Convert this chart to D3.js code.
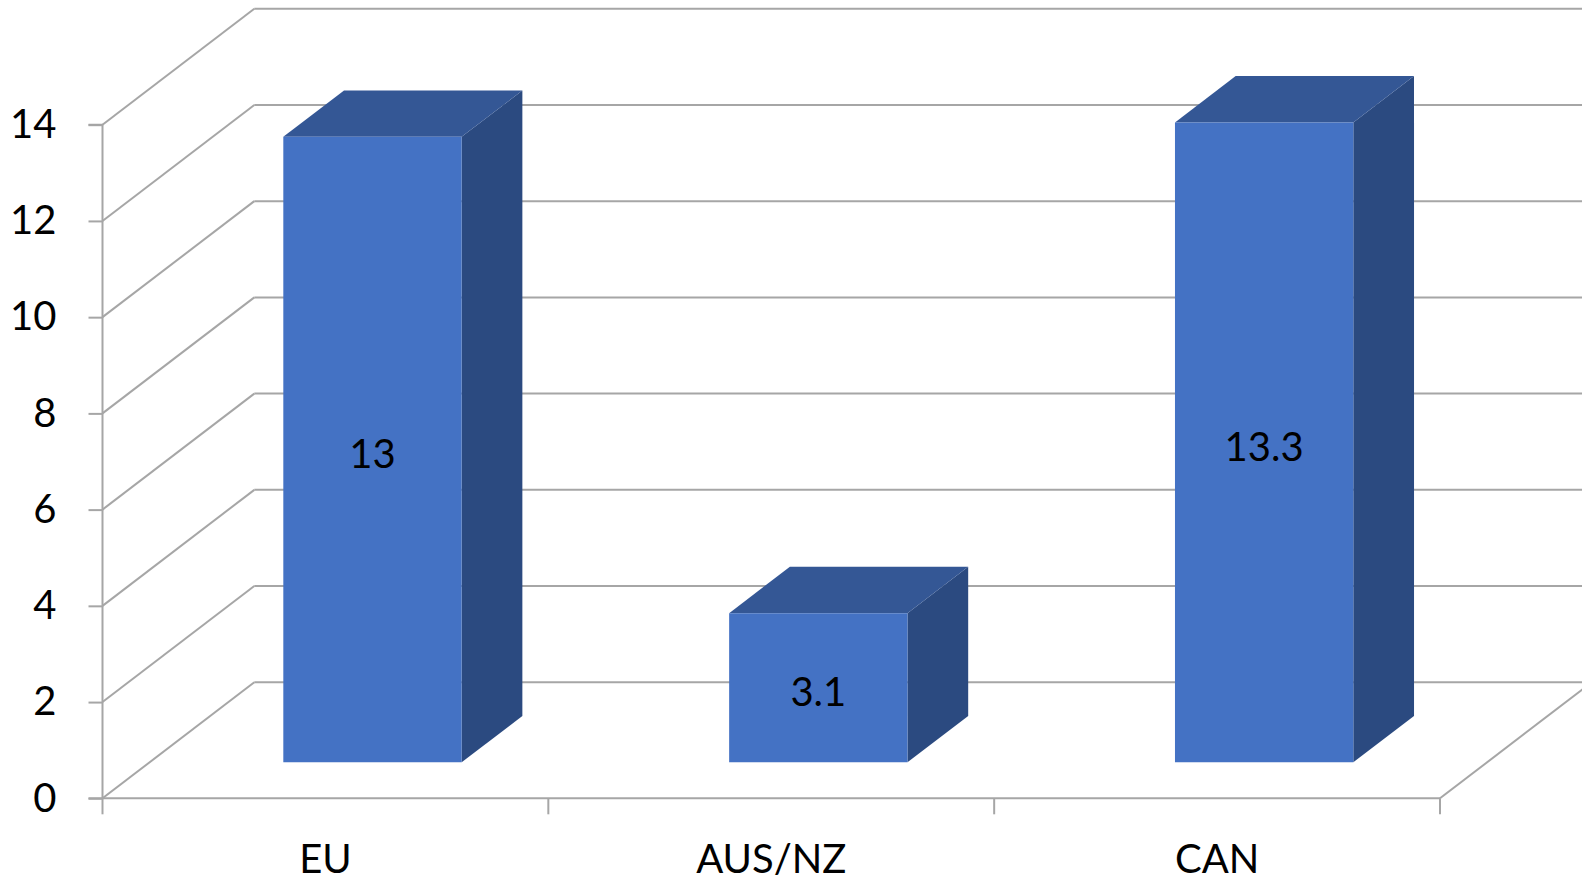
<!DOCTYPE html>
<html>
<head>
<meta charset="utf-8">
<script src="https://cdn.jsdelivr.net/npm/d3@7"></script>
<style>
  html, body { margin: 0; padding: 0; background: #ffffff; }
  svg { display: block; }
  text { font-family: Lato, "Open Sans", "Liberation Sans", sans-serif; fill: #000; }
</style>
</head>
<body>
<svg id="chart" width="1582" height="883"></svg>
<script>
// Chart data
const categories = ["EU", "AUS/NZ", "CAN"];
const values = [13, 3.1, 13.3];
const yTicks = [0, 2, 4, 6, 8, 10, 12, 14];

// Layout of the oblique 3D box
const W = 1582, H = 883;
const x0 = 102.5, x1 = 1440;          // front floor edge
const yBottom = 798.3, yTop = 124.7;  // value axis span on the front plane
const depthDX = 151.8, depthDY = -116; // offset from front plane to back wall
const barZ0 = 0.31, barZ1 = 0.71;      // bar depth position (fraction of box depth)

const gridColor = "#a6a6a6";
const frontColor = "#4472c4";
const topColor = "#345795";
const sideColor = "#2b4a80";
const fontSize = 40;

const svg = d3.select("#chart");

const y = d3.scaleLinear().domain([0, 14]).range([yBottom, yTop]);
const x = d3.scaleBand()
  .domain(categories)
  .range([x0, x1])
  .paddingInner(0.6)
  .paddingOuter(0.3);

// Project a point (px on front plane, value v, depth fraction z)
const proj = (px, v, z) => [px + z * depthDX, y(v) + z * depthDY];

const grid = svg.append("g")
  .attr("fill", "none")
  .attr("stroke", gridColor)
  .attr("stroke-width", 2);

// Back wall gridlines
grid.selectAll("line.back")
  .data(yTicks)
  .join("line")
  .attr("class", "back")
  .attr("x1", d => proj(x0, d, 1)[0])
  .attr("y1", d => proj(x0, d, 1)[1])
  .attr("x2", W + 20)
  .attr("y2", d => proj(x0, d, 1)[1]);

// Side wall gridlines
grid.selectAll("line.side")
  .data(yTicks)
  .join("line")
  .attr("class", "side")
  .attr("x1", x0)
  .attr("y1", d => y(d))
  .attr("x2", d => proj(x0, d, 1)[0])
  .attr("y2", d => proj(x0, d, 1)[1]);

// Right floor edge
grid.append("line")
  .attr("x1", x1).attr("y1", y(0))
  .attr("x2", proj(x1, 0, 1)[0]).attr("y2", proj(x1, 0, 1)[1]);

// Category axis: line along the front floor edge with ticks at band boundaries
grid.append("line")
  .attr("x1", x0).attr("y1", y(0))
  .attr("x2", x1).attr("y2", y(0));

const boundaries = d3.range(categories.length + 1).map(i => x0 + i * x.step());
grid.selectAll("line.ctick")
  .data(boundaries)
  .join("line")
  .attr("class", "ctick")
  .attr("x1", d => d).attr("y1", y(0))
  .attr("x2", d => d).attr("y2", y(0) + 16);

// Value axis
const yAxis = d3.axisLeft(y)
  .tickValues(yTicks)
  .tickSize(14)
  .tickPadding(32)
  .tickFormat(d3.format("d"));

const yAxisG = svg.append("g")
  .attr("transform", `translate(${x0},0)`)
  .call(yAxis);
yAxisG.select(".domain")
  .attr("stroke", gridColor)
  .attr("stroke-width", 2)
  .attr("d", `M-14,${y(14)}H0V${y(0)}H-14`);
yAxisG.selectAll(".tick line").attr("stroke", gridColor).attr("stroke-width", 2);
yAxisG.selectAll(".tick text")
  .attr("font-size", fontSize)
  .attr("font-family", "Lato, 'Open Sans', sans-serif")
  .attr("fill", "#000");

// Category labels
svg.append("g")
  .selectAll("text")
  .data(categories)
  .join("text")
  .attr("x", d => x(d) + x.bandwidth() / 2)
  .attr("y", 873)
  .attr("text-anchor", "middle")
  .attr("font-size", fontSize)
  .text(d => d);

// Bars as oblique boxes
const bars = svg.append("g")
  .selectAll("g")
  .data(categories.map((c, i) => ({ c, v: values[i] })))
  .join("g");

const pts = arr => arr.map(p => p.join(",")).join(" ");

bars.each(function (d) {
  const g = d3.select(this);
  const L = x(d.c), R = x(d.c) + x.bandwidth();
  // right side face
  g.append("polygon")
    .attr("fill", sideColor)
    .attr("points", pts([proj(R, 0, barZ0), proj(R, 0, barZ1), proj(R, d.v, barZ1), proj(R, d.v, barZ0)]));
  // top face
  g.append("polygon")
    .attr("fill", topColor)
    .attr("points", pts([proj(L, d.v, barZ0), proj(R, d.v, barZ0), proj(R, d.v, barZ1), proj(L, d.v, barZ1)]));
  // front face
  g.append("polygon")
    .attr("fill", frontColor)
    .attr("points", pts([proj(L, 0, barZ0), proj(R, 0, barZ0), proj(R, d.v, barZ0), proj(L, d.v, barZ0)]));
  // value label centred on the front face
  const cx = (proj(L, 0, barZ0)[0] + proj(R, 0, barZ0)[0]) / 2;
  const cy = (proj(L, 0, barZ0)[1] + proj(L, d.v, barZ0)[1]) / 2;
  g.append("text")
    .attr("x", cx)
    .attr("y", cy + fontSize * 0.36 + 4)
    .attr("text-anchor", "middle")
    .attr("font-size", fontSize)
    .text(d.v);
});
</script>
</body>
</html>
